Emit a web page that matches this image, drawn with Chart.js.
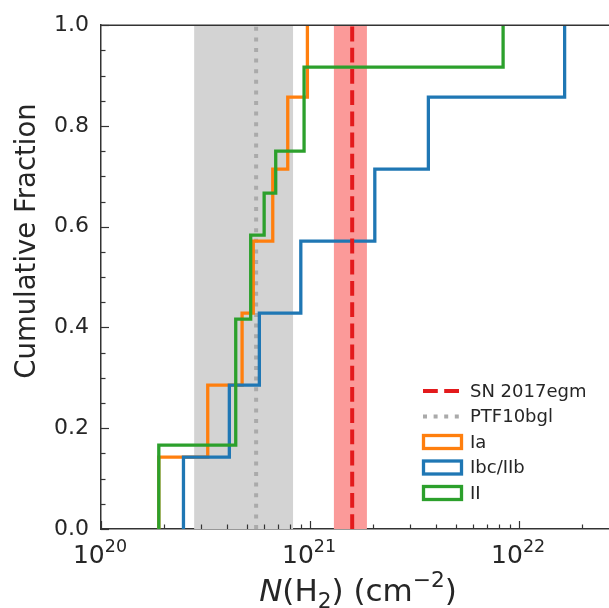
<!DOCTYPE html>
<html>
<head>
<meta charset="utf-8">
<script src="https://cdn.jsdelivr.net/npm/chart.js@4.4.0/dist/chart.umd.min.js"></script>
<style>
  html, body { margin: 0; padding: 0; background: #fff; }
</style>
</head>
<body>
<canvas id="cdfChart" width="609" height="608"></canvas>
<script>
// sorted N(H2) values per SN class (cm^-2)
const iaValues  = [1.89e20, 3.24e20, 4.73e20, 5.35e20, 6.63e20, 7.82e20, 9.71e20];
const ibcValues = [2.48e20, 4.11e20, 5.72e20, 9.03e20, 2.04e21, 3.68e21, 1.65e22];
const iiValues  = [1.89e20, 1.89e20, 4.41e20, 4.41e20, 4.41e20, 5.20e20, 5.20e20,
                   6.03e20, 6.85e20, 9.36e20, 9.36e20, 8.38e21];

// reference objects: value and shaded range
const sn2017egm = 1.59e21;
const sn2017egmRange = [1.30e21, 1.87e21];
const ptf10bgl = 5.52e20;
const ptf10bglRange = [2.79e20, 8.29e20];

const xMin = 1e20, xMax = 2.69e22;
const xDecades = [1e20, 1e21, 1e22];
const yLabelStep = 0.2, yMinorStep = 0.05;
const yTitle = 'Cumulative Fraction';

const textColor = '#262626';
const spineColor = '#333333';
const FONT = '"DejaVu Sans"';

function cdfPoints(values) {
  const pts = [{ x: values[0], y: 0 }];
  values.forEach((v, i) => pts.push({ x: v, y: (i + 1) / values.length }));
  return pts;
}

function vline(v) {
  return [{ x: v, y: 0 }, { x: v, y: 1 }];
}

// draw a run of text pieces (size factor, baseline shift in em, italic)
function drawPieces(ctx, parts, size, x, y) {
  const fontOf = p => (p.italic ? 'italic ' : '') + (size * (p.s || 1)) + 'px ' + FONT;
  let total = 0;
  parts.forEach(p => { ctx.font = fontOf(p); p.w = ctx.measureText(p.t).width; total += p.w; });
  let cx = x - total / 2;
  parts.forEach(p => {
    ctx.font = fontOf(p);
    ctx.fillText(p.t, cx, y + (p.dy || 0) * size);
    cx += p.w;
  });
}

const bands = [
  { range: ptf10bglRange, color: '#d3d3d3' },
  { range: sn2017egmRange, color: '#fb9a99' }
];

const bandsPlugin = {
  id: 'bands',
  beforeDatasetsDraw(chart) {
    const { ctx, chartArea: a, scales: { x } } = chart;
    ctx.save();
    bands.forEach(b => {
      const x0 = x.getPixelForValue(b.range[0]);
      const x1 = x.getPixelForValue(b.range[1]);
      ctx.fillStyle = b.color;
      ctx.fillRect(x0, a.top, x1 - x0, a.bottom - a.top);
    });
    ctx.restore();
  }
};

// inward ticks, top spine, decade labels and axis titles
const axesPlugin = {
  id: 'axesDecor',
  afterDraw(chart) {
    const { ctx, chartArea: a, scales: { x, y } } = chart;
    ctx.save();
    ctx.strokeStyle = spineColor;
    ctx.lineWidth = 1.5;
    ctx.beginPath();
    ctx.moveTo(a.left, a.top);
    ctx.lineTo(a.right, a.top);
    ctx.stroke();

    ctx.lineWidth = 1.2;
    xDecades.forEach(d => {
      for (let k = 1; k < 10; k++) {
        const v = k * d;
        if (v < xMin || v > xMax) continue;
        const px = Math.round(x.getPixelForValue(v)) + 0.5;
        const len = k === 1 ? 8 : 4.5;
        ctx.beginPath();
        ctx.moveTo(px, a.bottom);
        ctx.lineTo(px, a.bottom - len);
        ctx.stroke();
      }
    });
    const nMinor = Math.round(1 / yMinorStep);
    for (let i = 0; i <= nMinor; i++) {
      const py = Math.round(y.getPixelForValue(i * yMinorStep)) + 0.5;
      const len = i % 4 === 0 ? 8 : 4.5;
      ctx.beginPath();
      ctx.moveTo(a.left, py);
      ctx.lineTo(a.left + len, py);
      ctx.stroke();
    }

    ctx.fillStyle = textColor;
    ctx.textBaseline = 'alphabetic';
    ctx.textAlign = 'left';

    // decade labels 10^n
    xDecades.forEach(d => {
      const e = Math.round(Math.log10(d));
      drawPieces(ctx, [{ t: '10' }, { t: String(e), s: 0.7, dy: -0.45 }], 25,
        x.getPixelForValue(d) - 1, a.bottom + 34);
    });

    // x label: N(H2) (cm^-2)
    drawPieces(ctx, [
      { t: 'N', italic: true },
      { t: '(H' },
      { t: '2', s: 0.7, dy: 0.22 },
      { t: ') (cm' },
      { t: '−2', s: 0.7, dy: -0.45 },
      { t: ')' }
    ], 31, (a.left + a.right) / 2 + 3, 601);

    // y label
    ctx.translate(28, 241);
    ctx.rotate(-Math.PI / 2);
    ctx.font = '27.5px ' + FONT;
    ctx.textAlign = 'center';
    ctx.textBaseline = 'middle';
    ctx.fillText(yTitle, 0, 0);
    ctx.restore();
  }
};

// legend inside the axes, lower right
const legendPlugin = {
  id: 'insideLegend',
  afterDraw(chart) {
    const { ctx, chartArea: a } = chart;
    const sets = chart.data.datasets.slice().sort((p, q) => p.legendIndex - q.legendIndex);
    const hx = a.left + 322, hw = 36, rowH = 25.5;
    let ry = 391;
    ctx.save();
    ctx.font = '18px ' + FONT;
    ctx.textBaseline = 'middle';
    ctx.fillStyle = textColor;
    sets.forEach(ds => {
      ctx.strokeStyle = ds.borderColor;
      if (ds.legendKind === 'line') {
        ctx.lineWidth = ds.borderWidth;
        ctx.setLineDash(ds.borderDash);
        ctx.beginPath();
        ctx.moveTo(hx, ry);
        ctx.lineTo(hx + hw, ry);
        ctx.stroke();
        ctx.setLineDash([]);
      } else {
        ctx.lineWidth = 3.3;
        ctx.strokeRect(hx + 0.5, ry - 6.5, hw + 2, 13);
      }
      ctx.fillText(ds.label, hx + 47, ry + 1);
      ry += rowH;
    });
    ctx.restore();
  }
};

const stepStyle = { showLine: true, stepped: 'before', pointRadius: 0, borderWidth: 3.3, fill: false };

new Chart(document.getElementById('cdfChart').getContext('2d'), {
  type: 'scatter',
  data: {
    datasets: [
      { label: 'SN 2017egm', data: vline(sn2017egm), showLine: true, pointRadius: 0,
        borderColor: '#e31a1c', borderWidth: 4, borderDash: [14.8, 6.4],
        order: 0, legendIndex: 0, legendKind: 'line' },
      { label: 'PTF10bgl', data: vline(ptf10bgl), showLine: true, pointRadius: 0,
        borderColor: '#aaaaaa', borderWidth: 4, borderDash: [4, 6.6],
        order: 4, legendIndex: 1, legendKind: 'line' },
      { label: 'Ia', data: cdfPoints(iaValues), ...stepStyle,
        borderColor: '#ff7f0e', order: 3, legendIndex: 2, legendKind: 'box' },
      { label: 'Ibc/IIb', data: cdfPoints(ibcValues), ...stepStyle,
        borderColor: '#1f77b4', order: 2, legendIndex: 3, legendKind: 'box' },
      { label: 'II', data: cdfPoints(iiValues), ...stepStyle,
        borderColor: '#2ca02c', order: 1, legendIndex: 4, legendKind: 'box' }
    ]
  },
  options: {
    responsive: false,
    animation: false,
    devicePixelRatio: 1,
    layout: { padding: { top: 23, left: 0, right: 0, bottom: 0 } },
    plugins: { legend: { display: false }, tooltip: { enabled: false } },
    scales: {
      x: {
        type: 'logarithmic',
        min: xMin,
        max: xMax,
        grid: { display: false, drawTicks: false },
        border: { display: true, color: spineColor, width: 1.5 },
        ticks: { display: false },
        afterFit: s => { s.height = 79; s.paddingLeft = 0; s.paddingRight = 0; }
      },
      y: {
        type: 'linear',
        min: 0,
        max: 1,
        grid: { display: false, drawTicks: false },
        border: { display: true, color: spineColor, width: 1.5 },
        ticks: {
          stepSize: yMinorStep,
          autoSkip: false,
          padding: 12,
          color: textColor,
          font: { family: 'DejaVu Sans', size: 22 },
          callback: v => {
            const r = v / yLabelStep;
            return Math.abs(r - Math.round(r)) < 1e-6 ? v.toFixed(1) : '';
          }
        },
        afterFit: s => { s.width = 101; }
      }
    }
  },
  plugins: [bandsPlugin, axesPlugin, legendPlugin]
});
</script>
</body>
</html>
